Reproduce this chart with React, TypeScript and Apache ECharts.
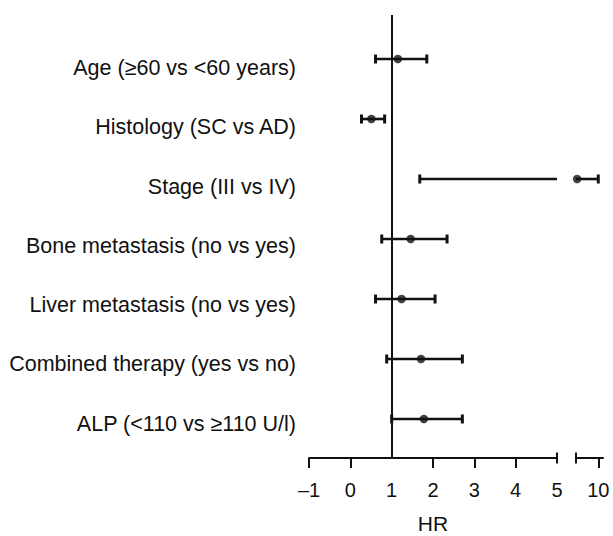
import React, { useEffect, useRef } from "react";
import * as echarts from "echarts";

const categories = [
  "Age (≥60 vs <60 years)",
  "Histology (SC vs AD)",
  "Stage (III vs IV)",
  "Bone metastasis (no vs yes)",
  "Liver metastasis (no vs yes)",
  "Combined therapy (yes vs no)",
  "ALP (<110 vs ≥110 U/l)",
];
const hr = [1.15, 0.51, 6.2, 1.46, 1.24, 1.71, 1.78];
const lower = [0.61, 0.27, 1.68, 0.76, 0.61, 0.88, 1.0];
const upper = [1.85, 0.83, 10, 2.34, 2.05, 2.71, 2.71];

const leftTicks = [-1, 0, 2, 3, 4];
const leftLabels = [-1, 0, 1, 2, 3, 4, 5];
const rightTicks = [10];
const rightLabels = [10];
const leftRange = [-1, 5];
const rightRange = [6, 10.85];

const INK = "#111111";
const FONT = "'Liberation Sans', Arial, Helvetica, sans-serif";

export default function App() {
  const ref = useRef<HTMLDivElement>(null);
  useEffect(() => {
    if (!ref.current) return;
    const chart = echarts.init(ref.current, undefined, { renderer: "svg" });

    const whiskerData = categories.map((_, i) => [lower[i], upper[i], i]);
    const renderItem = (params: any, api: any) => {
      const row = api.value(2);
      const pl = api.coord([api.value(0), row]);
      const ph = api.coord([api.value(1), row]);
      const cs = params.coordSys;
      const x0 = cs.x;
      const x1 = cs.x + cs.width;
      const y = pl[1];
      if (ph[0] < x0 - 0.5 || pl[0] > x1 + 0.5) return null;
      const sx = Math.max(pl[0], x0);
      const ex = Math.min(ph[0], x1);
      const children: any[] = [
        {
          type: "line",
          shape: { x1: sx, y1: y, x2: ex, y2: y },
          style: { stroke: INK, lineWidth: 2.6 },
        },
      ];
      if (pl[0] >= x0 - 0.5)
        children.push({
          type: "line",
          shape: { x1: pl[0], y1: y - 4.5, x2: pl[0], y2: y + 4.5 },
          style: { stroke: INK, lineWidth: 3 },
        });
      if (ph[0] <= x1 + 0.5)
        children.push({
          type: "line",
          shape: { x1: ph[0], y1: y - 4.5, x2: ph[0], y2: y + 4.5 },
          style: { stroke: INK, lineWidth: 3 },
        });
      return { type: "group", children };
    };

    const pointsIn = (r: number[]) =>
      categories
        .map((_, i) => [hr[i], i])
        .filter((p) => p[0] >= r[0] && p[0] <= r[1]);

    const tickStyle = { color: INK, width: 2 };
    const baseX = (gridIndex: number, r: number[]) => ({
      type: "value",
      gridIndex,
      min: r[0],
      max: r[1],
      position: "bottom",
      offset: 0,
      splitLine: { show: false },
    });
    const lineOn = { show: true, onZero: false, lineStyle: { color: INK, width: 2 } };
    const lineOff = { show: false, onZero: false };

    const rowMin = -0.7333;
    const rowMax = 6.65;

    chart.setOption({
      animation: false,
      backgroundColor: "#ffffff",
      textStyle: { fontFamily: FONT },
      grid: [
        { left: 309, top: 15, width: 248, height: 443, containLabel: false, outerBoundsMode: "none" },
        { left: 576, top: 15, width: 27, height: 443, containLabel: false, outerBoundsMode: "none" },
      ],
      xAxis: [
        {
          ...baseX(0, leftRange),
          axisLine: lineOn,
          axisTick: { show: true, customValues: leftTicks, length: 10, lineStyle: tickStyle },
          axisLabel: {
            show: true,
            customValues: leftLabels,
            margin: 22,
            fontSize: 20,
            color: INK,
            fontFamily: FONT,
            formatter: (v: number) => (v < 0 ? "–" + Math.abs(v) : String(v)),
          },
          name: "HR",
          nameLocation: "middle",
          nameGap: 55,
          nameTextStyle: { fontSize: 21, lineHeight: 21, color: INK, fontFamily: FONT },
        },
        {
          ...baseX(0, leftRange),
          axisLine: lineOff,
          axisTick: { show: true, customValues: [leftRange[1]], length: 5.5, lineStyle: tickStyle },
          axisLabel: { show: false },
        },
        {
          ...baseX(0, leftRange),
          axisLine: lineOff,
          axisTick: { show: true, inside: true, customValues: [leftRange[1]], length: 5.5, lineStyle: tickStyle },
          axisLabel: { show: false },
        },
        {
          ...baseX(1, rightRange),
          axisLine: lineOn,
          axisTick: { show: true, customValues: rightTicks, length: 10, lineStyle: tickStyle },
          axisLabel: {
            show: true,
            customValues: rightLabels,
            margin: 22,
            fontSize: 20,
            color: INK,
            fontFamily: FONT,
          },
        },
        {
          ...baseX(1, rightRange),
          axisLine: lineOff,
          axisTick: { show: true, customValues: [rightRange[0]], length: 5.5, lineStyle: tickStyle },
          axisLabel: { show: false },
        },
        {
          ...baseX(1, rightRange),
          axisLine: lineOff,
          axisTick: { show: true, inside: true, customValues: [rightRange[0]], length: 5.5, lineStyle: tickStyle },
          axisLabel: { show: false },
        },
      ],
      yAxis: [
        { type: "value", gridIndex: 0, min: rowMin, max: rowMax, inverse: true, show: false },
        {
          type: "value",
          gridIndex: 0,
          min: -0.894,
          max: 6.577,
          inverse: true,
          position: "left",
          axisLine: { show: false },
          axisTick: { show: false },
          splitLine: { show: false },
          axisLabel: {
            show: true,
            customValues: categories.map((_, i) => i),
            formatter: (v: number) => categories[Math.round(v)] ?? "",
            margin: 13,
            fontSize: 21.5,
            color: INK,
            fontFamily: FONT,
          },
        },
        { type: "value", gridIndex: 1, min: rowMin, max: rowMax, inverse: true, show: false },
      ],
      series: [
        {
          type: "custom",
          xAxisIndex: 0,
          yAxisIndex: 0,
          renderItem,
          data: whiskerData,
          clip: false,
          silent: true,
        },
        {
          type: "custom",
          xAxisIndex: 3,
          yAxisIndex: 2,
          renderItem,
          data: whiskerData,
          clip: false,
          silent: true,
        },
        {
          type: "scatter",
          xAxisIndex: 0,
          yAxisIndex: 0,
          data: pointsIn(leftRange),
          symbol: "circle",
          symbolSize: 8.5,
          itemStyle: { color: INK },
          clip: false,
          silent: true,
          markLine: {
            silent: true,
            symbol: "none",
            label: { show: false },
            lineStyle: { color: INK, width: 2, type: "solid" },
            data: [{ xAxis: 1 }],
          },
        },
        {
          type: "scatter",
          xAxisIndex: 3,
          yAxisIndex: 2,
          data: pointsIn(rightRange),
          symbol: "circle",
          symbolSize: 8.5,
          itemStyle: { color: INK },
          clip: false,
          silent: true,
        },
      ],
    });
    return () => chart.dispose();
  }, []);
  return (
    <div
      ref={ref}
      style={{ position: "fixed", left: 0, top: 0, width: 613, height: 536, background: "#fff" }}
    />
  );
}
